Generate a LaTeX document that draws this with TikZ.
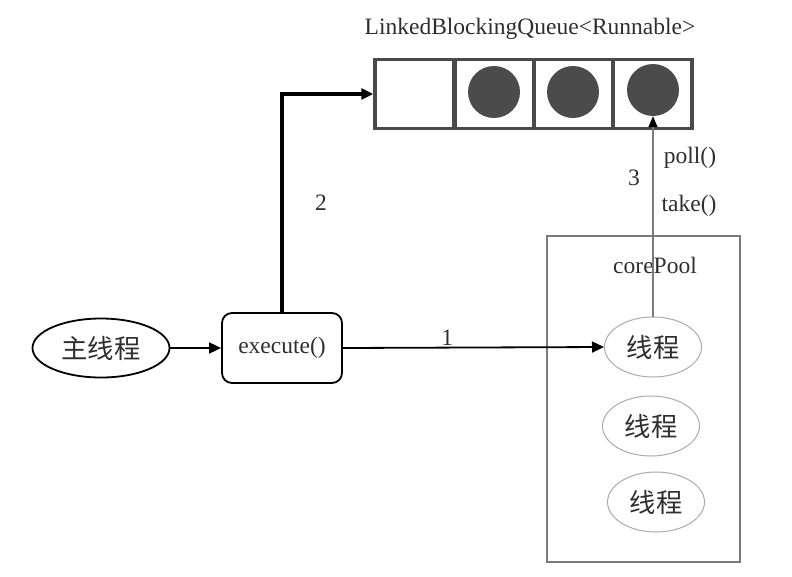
\documentclass[tikz,border=0pt]{standalone}
\usepackage{fontspec}
\setmainfont{Liberation Serif}
\newfontfamily\cjk[Scale=1.12]{Noto Sans CJK SC}
\usetikzlibrary{shapes.geometric,arrows.meta}
\definecolor{ink}{HTML}{2E2E2E}
\definecolor{qline}{HTML}{4A4A4A}
\definecolor{ball}{HTML}{4B4B4B}
\definecolor{pool}{HTML}{7A7A7A}
\definecolor{thin}{HTML}{ABABAB}
\tikzset{
  every node/.style={font=\fontsize{23.5}{27}\selectfont, text=ink},
  tip/.style={-{Triangle[length=12pt,width=11pt]}},
  cell/.style={draw=qline, line width=3.5pt, minimum width=79pt, minimum height=69pt, inner sep=0pt},
  ball/.style={circle, fill=ball, minimum size=52pt, inner sep=0pt},
  mainthread/.style={draw=black, line width=1.8pt, ellipse, minimum width=137pt, minimum height=59pt, inner sep=0pt},
  callbox/.style={draw=black, line width=1.8pt, rounded corners=10pt, minimum width=120pt, minimum height=70pt, inner sep=0pt},
  worker/.style={draw=thin, line width=1pt, ellipse, minimum width=97pt, minimum height=60pt, inner sep=0pt},
  poolbox/.style={draw=pool, line width=2.5pt, minimum width=193pt, minimum height=326pt, inner sep=0pt},
}
\begin{document}
\begin{tikzpicture}[x=1pt,y=-1pt]
  \useasboundingbox (0,0) rectangle (792,576);

  % task queue
  \node at (530,29) (qtitle) {LinkedBlockingQueue<Runnable>};
  \node[cell] (q1) at (414.5,94) {};
  \node[cell] (q2) at (494.5,94) {};
  \node[cell] (q3) at (573.5,94) {};
  \node[cell] (q4) at (652.5,94) {};
  \node[ball] (b2) at (494,92) {};
  \node[ball] (b3) at (573,92) {};
  \node[ball] (b4) at (653,90) {};

  % core pool with its worker threads
  \node[poolbox] (pool) at (643.5,399) {};
  \node (pooltitle) at (655,265) {corePool};
  \node[worker] (t1) at (653,347) {\cjk 线程};
  \node[worker] (t2) at (651,426) {\cjk 线程};
  \node[worker] (t3) at (656,502) {\cjk 线程};

  % caller side
  \node[mainthread] (main) at (101,348) {\cjk 主线程};
  \node[callbox] (exec) at (282,348) {execute()};

  % connectors
  \draw[tip, line width=1.8pt] (main) -- (exec);
  \draw[tip, line width=1.8pt] (exec.east) -- node[above, pos=0.4, yshift=-2pt] (l1) {1} (t1.west);
  \draw[tip, line width=3.5pt] (exec.north) |- node[pos=0.25, right=28pt] (l2) {2} (q1.west);
  \draw[draw=pool, line width=1.3pt, -{Triangle[length=11pt,width=9pt,color=black]}] (t1.north) -- (b4.south);

  % labels of the polling step
  \node (l3) at (634,178) {3};
  \node (lpoll) at (690,158) {poll()};
  \node (ltake) at (689,206) {take()};
\end{tikzpicture}
\end{document}
